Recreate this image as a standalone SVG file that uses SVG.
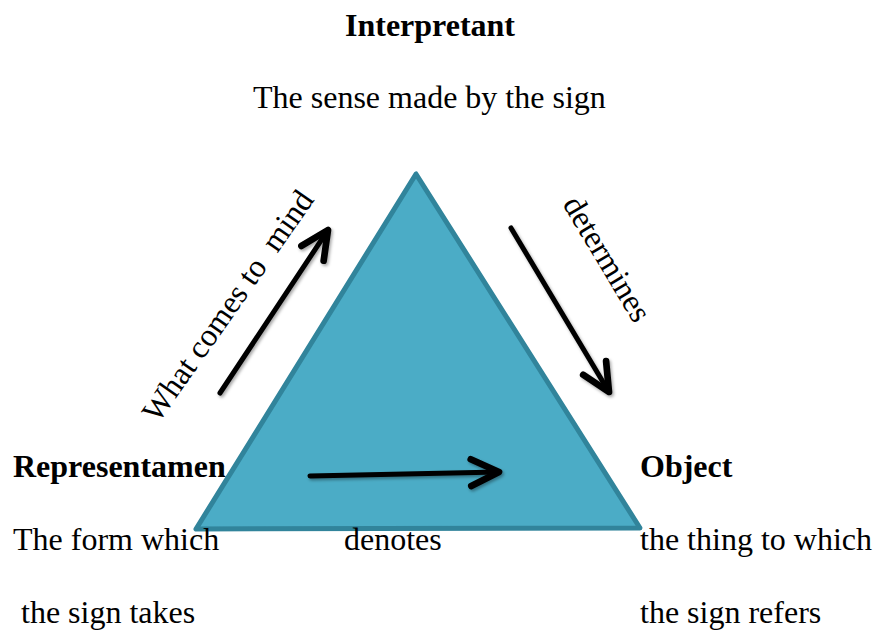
<svg xmlns="http://www.w3.org/2000/svg" width="875" height="631" viewBox="0 0 875 631">
<style>
text{font-family:"Liberation Serif","Times New Roman",serif;font-size:32px;fill:#000}
.b{font-weight:bold}
.arr{fill:none;stroke:#000;stroke-width:5;stroke-linecap:round;stroke-linejoin:round;filter:url(#sh)}
</style>
<defs>
<filter id="sh" filterUnits="userSpaceOnUse" x="0" y="0" width="875" height="631">
<feDropShadow dx="1.5" dy="2" stdDeviation="1.5" flood-color="#000" flood-opacity="0.35"/>
</filter>
<marker id="ah" markerUnits="userSpaceOnUse" markerWidth="40" markerHeight="40" refX="0" refY="0" viewBox="-26 -15 30 30" orient="auto" overflow="visible">
<path d="M-21,-10 L0,0 L-21,10" fill="none" stroke="#000" stroke-width="5" stroke-linecap="round" stroke-linejoin="round"/>
</marker>
</defs>
<g id="triangle">
<polygon points="416,174 196,529 640,528" fill="#4BACC6" stroke="#31849B" stroke-width="5" stroke-linejoin="round"/>
</g>
<g id="interpretant">
<text class="b" x="430" y="36" text-anchor="middle">Interpretant</text>
<text x="253" y="108">The sense made by the sign</text>
</g>
<g id="representamen">
<text class="b" x="13" y="477">Representamen</text>
<text x="13" y="550">The form which</text>
<text x="21" y="623">the sign takes</text>
</g>
<g id="object">
<text class="b" x="640" y="477">Object</text>
<text x="640" y="550">the thing to which</text>
<text x="640" y="623">the sign refers</text>
</g>
<g id="connectors">
<path class="arr" d="M220,393 L328,230" marker-end="url(#ah)"/>
<path class="arr" d="M511,228 L609,392" marker-end="url(#ah)"/>
<path class="arr" d="M310,476 L499,472" marker-end="url(#ah)"/>
<text transform="translate(158,424) rotate(-55)" xml:space="preserve">What comes to  mind</text>
<text transform="translate(562,204) rotate(59)">determines</text>
<text x="344" y="550">denotes</text>
</g>
</svg>
